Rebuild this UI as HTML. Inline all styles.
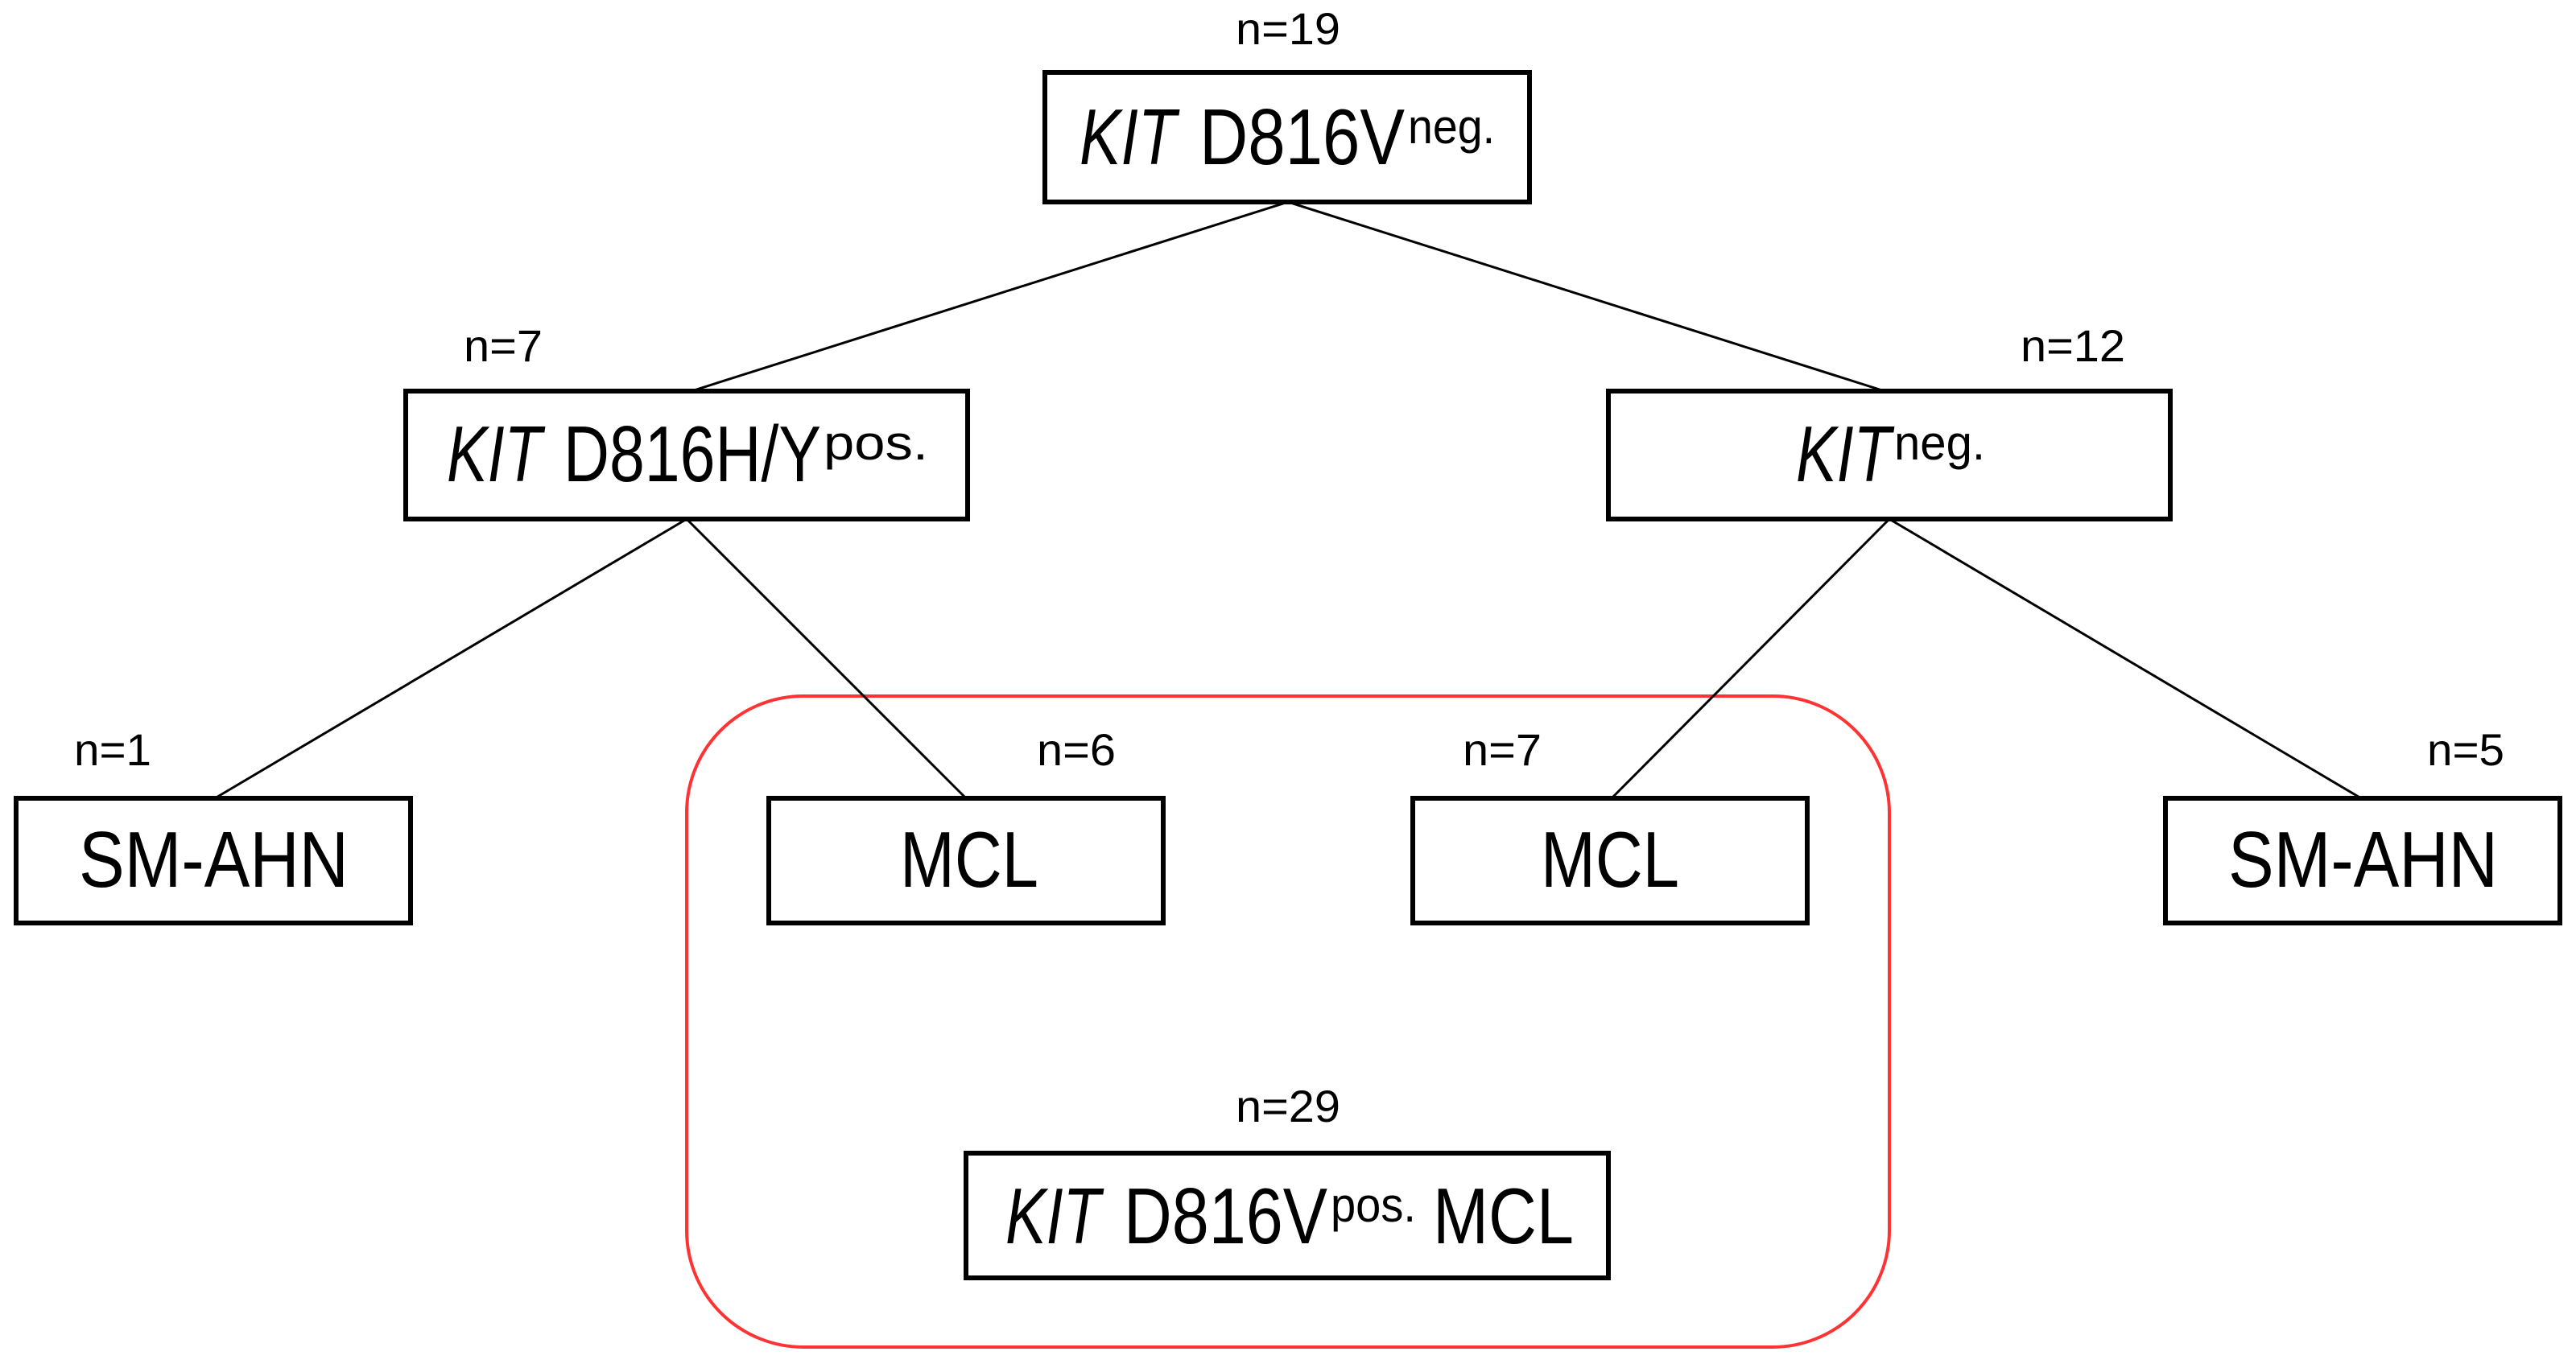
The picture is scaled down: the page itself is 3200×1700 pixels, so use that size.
<!DOCTYPE html>
<html><head><meta charset="utf-8"><style>html,body{margin:0;padding:0;background:#fff}svg{display:block}</style></head>
<body>
<svg width="3200" height="1700" viewBox="0 0 3200 1700" xmlns="http://www.w3.org/2000/svg" font-family="Liberation Sans, sans-serif" fill="#000">
<rect width="3200" height="1700" fill="#fff"/>
<rect x="853" y="865" width="1494" height="809" rx="145" ry="145" fill="none" stroke="#f33" stroke-width="4"/>
<g stroke="#000" stroke-width="3">
<line x1="1600" y1="251" x2="859" y2="486"/>
<line x1="1600" y1="251" x2="2341" y2="486"/>
<line x1="853" y1="645" x2="267" y2="992"/>
<line x1="853" y1="645" x2="1200" y2="992"/>
<line x1="2347" y1="645" x2="2002" y2="992"/>
<line x1="2347" y1="645" x2="2933" y2="992"/>
</g>
<g fill="#fff" stroke="#000" stroke-width="6">
<rect x="1298" y="90" width="602" height="161"/>
<rect x="504" y="486" width="698" height="159"/>
<rect x="1998" y="486" width="698" height="159"/>
<rect x="20" y="992" width="490" height="155"/>
<rect x="955" y="992" width="490" height="155"/>
<rect x="1755" y="992" width="490" height="155"/>
<rect x="2690" y="992" width="490" height="155"/>
<rect x="1200" y="1433" width="798" height="155"/>
</g>
<g font-size="56">
<text x="1535" y="55" textLength="130" lengthAdjust="spacingAndGlyphs">n=19</text>
<text x="576" y="449" textLength="98" lengthAdjust="spacingAndGlyphs">n=7</text>
<text x="2510" y="449" textLength="130" lengthAdjust="spacingAndGlyphs">n=12</text>
<text x="92" y="951" textLength="96" lengthAdjust="spacingAndGlyphs">n=1</text>
<text x="1288" y="951" textLength="98" lengthAdjust="spacingAndGlyphs">n=6</text>
<text x="1817" y="951" textLength="98" lengthAdjust="spacingAndGlyphs">n=7</text>
<text x="3015" y="951" textLength="96" lengthAdjust="spacingAndGlyphs">n=5</text>
<text x="1535" y="1394" textLength="130" lengthAdjust="spacingAndGlyphs">n=29</text>
</g>
<g font-size="98">
<text x="1341" y="204" font-style="italic" textLength="120" lengthAdjust="spacingAndGlyphs">KIT</text>
<text x="1490" y="204" textLength="255" lengthAdjust="spacingAndGlyphs">D816V</text>
<text x="1749" y="178" font-size="60" textLength="108" lengthAdjust="spacingAndGlyphs">neg.</text>

<text x="555" y="598" font-style="italic" textLength="118" lengthAdjust="spacingAndGlyphs">KIT</text>
<text x="700" y="598" textLength="320" lengthAdjust="spacingAndGlyphs">D816H/Y</text>
<text x="1023" y="571" font-size="60" textLength="130" lengthAdjust="spacingAndGlyphs">pos.</text>

<text x="2231" y="598" font-style="italic" textLength="118" lengthAdjust="spacingAndGlyphs">KIT</text>
<text x="2353" y="571" font-size="60" textLength="113" lengthAdjust="spacingAndGlyphs">neg.</text>

<text x="98" y="1102" textLength="335" lengthAdjust="spacingAndGlyphs">SM-AHN</text>
<text x="1118" y="1102" textLength="172" lengthAdjust="spacingAndGlyphs">MCL</text>
<text x="1914" y="1102" textLength="172" lengthAdjust="spacingAndGlyphs">MCL</text>
<text x="2768" y="1102" textLength="335" lengthAdjust="spacingAndGlyphs">SM-AHN</text>

<text x="1249" y="1545" font-style="italic" textLength="118" lengthAdjust="spacingAndGlyphs">KIT</text>
<text x="1396" y="1545" textLength="253" lengthAdjust="spacingAndGlyphs">D816V</text>
<text x="1653" y="1518" font-size="60" textLength="106" lengthAdjust="spacingAndGlyphs">pos.</text>
<text x="1780" y="1545" textLength="175" lengthAdjust="spacingAndGlyphs">MCL</text>
</g>
</svg>
</body></html>
